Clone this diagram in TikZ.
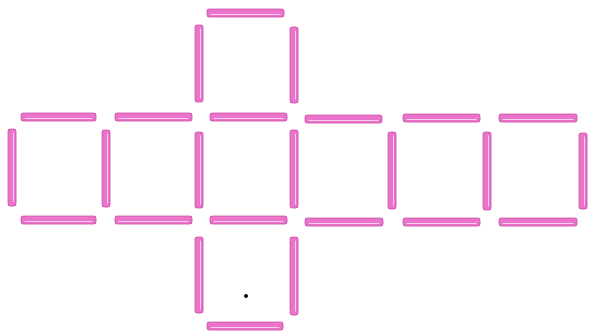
\documentclass[tikz,border=0pt]{standalone}
\definecolor{stickfill}{HTML}{EA74CC}
\definecolor{stickedge}{HTML}{C8489F}
\definecolor{stickhi}{HTML}{F8D0EE}
\tikzset{
  stickbody/.style={fill=stickfill, draw=stickedge, line width=0.6pt, rounded corners=2pt},
  stickshine/.style={draw=stickhi, line width=1pt, line cap=round}
}
\newcommand{\hstick}[3]{%
  \draw[stickbody] (#1,#3-4) rectangle (#2,#3+4);
  \draw[stickshine] (#1+4,#3+1) -- (#2-4,#3+1);
}
\newcommand{\vstick}[3]{%
  \draw[stickbody] (#1-4,#2) rectangle (#1+4,#3);
  \draw[stickshine] (#1+1,#2+4) -- (#1+1,#3-4);
}
\begin{document}
\begin{tikzpicture}[x=1pt,y=-1pt]
\useasboundingbox (0,0) rectangle (589,332);
% top square
\hstick{207}{284}{13}
\vstick{199}{25}{102}
\vstick{294}{27}{103}
% middle row horizontals
\foreach \a/\b/\y in {21/96/117, 115/192/117, 210/287/117, 305/382/119, 403/480/118, 499/577/118}
  {\hstick{\a}{\b}{\y}}
\foreach \a/\b/\y in {21/96/220, 115/192/220, 210/287/220, 305/383/222, 403/480/222, 499/577/222}
  {\hstick{\a}{\b}{\y}}
% middle row verticals
\foreach \x/\a/\b in {12/129/206, 106/130/207, 199/132/208, 294/130/208, 392/132/209, 487/132/210, 583/133/209}
  {\vstick{\x}{\a}{\b}}
% bottom square
\vstick{199}{237}{313}
\vstick{294}{237}{315}
\hstick{207}{283}{326}
% dot
\fill[black] (246,296) circle (2);
\end{tikzpicture}
\end{document}
